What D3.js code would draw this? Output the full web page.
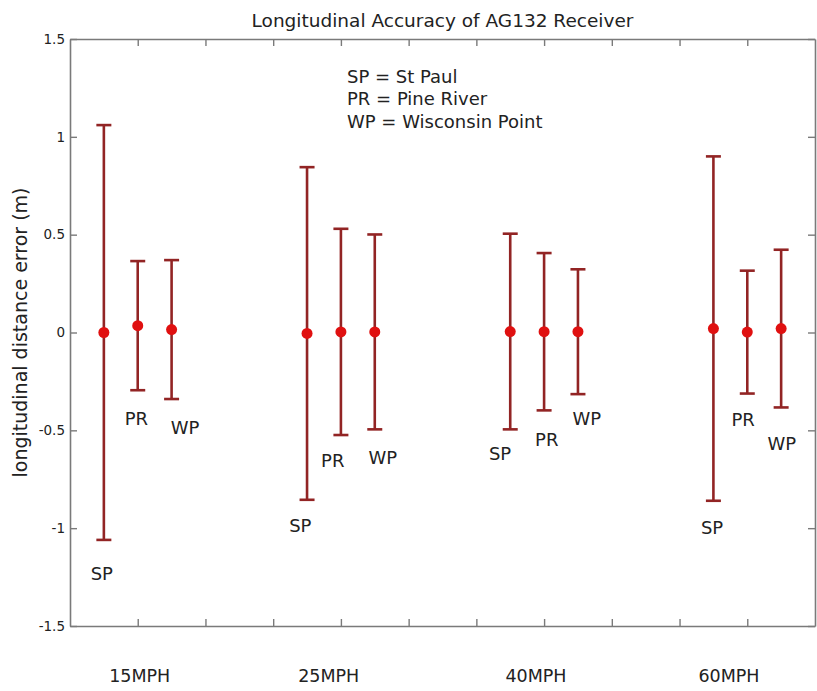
<!DOCTYPE html>
<html>
<head>
<meta charset="utf-8">
<script src="https://cdn.jsdelivr.net/npm/d3@7"></script>
<style>
  html, body { margin: 0; padding: 0; background: #fff; }
  svg { display: block; font-family: "DejaVu Sans", "Liberation Sans", Arial, sans-serif; }
</style>
</head>
<body>
<svg id="chart" width="817" height="691"></svg>
<script>
// Speed groups and their x values on the plot
const speeds = ["15MPH", "25MPH", "40MPH", "60MPH"];
const groupX = [1, 4, 7, 10];
const speedLabelX = [1.03, 3.82, 6.88, 9.73];
const speedLabelY = -1.755;

// Test sites, offset within each speed group
const sites = ["SP", "PR", "WP"];
const siteNames = ["St Paul", "Pine River", "Wisconsin Point"];
const siteOffset = [-0.5, 0, 0.5];

// Mean longitudinal error (m) per site, one value per speed
const meanSP = [0.0, -0.005, 0.005, 0.02];
const meanPR = [0.035, 0.003, 0.004, 0.002];
const meanWP = [0.015, 0.003, 0.004, 0.02];

// Error bar half-widths (m)
const errSP = [1.06, 0.85, 0.50, 0.88];
const errPR = [0.33, 0.527, 0.402, 0.314];
const errWP = [0.355, 0.498, 0.319, 0.403];

// Site label anchors in data units
const labelXSP = [0.47, 3.40, 6.35, 9.48];
const labelYSP = [-1.23, -0.985, -0.62, -0.995];
const labelXPR = [0.98, 3.88, 7.04, 9.94];
const labelYPR = [-0.437, -0.652, -0.545, -0.447];
const labelXWP = [1.70, 4.62, 7.63, 10.51];
const labelYWP = [-0.483, -0.641, -0.437, -0.565];

// Axis ticks
const xTicks = [1, 2, 3, 4, 5, 6, 7, 8, 9, 10];
const yTicks = [-1.5, -1, -0.5, 0, 0.5, 1, 1.5];
const yTickLabels = ["-1.5", "-1", "-0.5", "0", "0.5", "1", "1.5"];

const means = [meanSP, meanPR, meanWP];
const errs = [errSP, errPR, errWP];
const labelXs = [labelXSP, labelXPR, labelXWP];
const labelYs = [labelYSP, labelYPR, labelYWP];

const points = [];
sites.forEach((s, si) => {
  speeds.forEach((sp, gi) => {
    points.push({
      site: s, speed: sp,
      x: groupX[gi] + siteOffset[si],
      mean: means[si][gi],
      err: errs[si][gi],
      lx: labelXs[si][gi],
      ly: labelYs[si][gi]
    });
  });
});

const margin = { left: 70, right: 2, top: 39, bottom: 65 };
const W = 817, H = 691;
const x = d3.scaleLinear().domain([0, 11]).range([margin.left, W - margin.right]);
const y = d3.scaleLinear().domain([-1.5, 1.5]).range([H - margin.bottom, margin.top]);

const svg = d3.select("#chart");
const axisColor = "#7a7a7a";
const textColor = "#222";
const fontFamily = "DejaVu Sans, Liberation Sans, Arial, sans-serif";

// Plot frame with inward ticks on all four sides
const tickLen = 7;
function styleAxis(g) {
  g.select(".domain").attr("stroke", axisColor).attr("stroke-width", 1.6);
  g.selectAll(".tick line").attr("stroke", axisColor).attr("stroke-width", 1.4);
}
svg.append("g")
  .attr("transform", `translate(0,${y(-1.5)})`)
  .call(d3.axisBottom(x).tickValues(xTicks).tickSizeInner(-tickLen).tickSizeOuter(0).tickFormat(""))
  .call(styleAxis);
svg.append("g")
  .attr("transform", `translate(0,${y(1.5)})`)
  .call(d3.axisTop(x).tickValues(xTicks).tickSizeInner(-tickLen).tickSizeOuter(0).tickFormat(""))
  .call(styleAxis);
svg.append("g")
  .attr("transform", `translate(${x(0)},0)`)
  .call(d3.axisLeft(y).tickValues(yTicks).tickSizeInner(-tickLen).tickSizeOuter(0)
    .tickPadding(5).tickFormat((d, i) => yTickLabels[i]))
  .call(styleAxis)
  .call(g => g.selectAll(".tick text").attr("fill", textColor)
    .attr("font-size", 13.5).attr("font-family", fontFamily));
svg.append("g")
  .attr("transform", `translate(${x(11)},0)`)
  .call(d3.axisRight(y).tickValues(yTicks).tickSizeInner(-tickLen).tickSizeOuter(0).tickFormat(""))
  .call(styleAxis);

// Error bars
const barColor = "#922424";
const capHalf = 7.5;
const bars = svg.append("g").attr("class", "errorbars");
bars.selectAll("line.stem").data(points).join("line")
  .attr("class", "stem")
  .attr("x1", d => x(d.x)).attr("x2", d => x(d.x))
  .attr("y1", d => y(d.mean + d.err)).attr("y2", d => y(d.mean - d.err))
  .attr("stroke", barColor).attr("stroke-width", 2.6);
bars.selectAll("line.capTop").data(points).join("line")
  .attr("class", "capTop")
  .attr("x1", d => x(d.x) - capHalf).attr("x2", d => x(d.x) + capHalf)
  .attr("y1", d => y(d.mean + d.err)).attr("y2", d => y(d.mean + d.err))
  .attr("stroke", barColor).attr("stroke-width", 2.6);
bars.selectAll("line.capBot").data(points).join("line")
  .attr("class", "capBot")
  .attr("x1", d => x(d.x) - capHalf).attr("x2", d => x(d.x) + capHalf)
  .attr("y1", d => y(d.mean - d.err)).attr("y2", d => y(d.mean - d.err))
  .attr("stroke", barColor).attr("stroke-width", 2.6);

// Mean markers
svg.append("g").selectAll("circle").data(points).join("circle")
  .attr("cx", d => x(d.x)).attr("cy", d => y(d.mean)).attr("r", 5.5)
  .attr("fill", "#e01010");

// Site labels
svg.append("g").selectAll("text").data(points).join("text")
  .attr("x", d => x(d.lx)).attr("y", d => y(d.ly))
  .attr("text-anchor", "middle").attr("dominant-baseline", "central")
  .attr("font-size", 18).attr("fill", textColor)
  .text(d => d.site);

// Speed group labels
svg.append("g").selectAll("text").data(speeds).join("text")
  .attr("x", (d, i) => x(speedLabelX[i])).attr("y", y(speedLabelY))
  .attr("text-anchor", "middle").attr("dominant-baseline", "central")
  .attr("font-size", 17.5).attr("fill", textColor)
  .text(d => d);

// Legend text
svg.append("g").selectAll("text").data(sites).join("text")
  .attr("x", 347).attr("y", (d, i) => 76 + i * 22.7)
  .attr("dominant-baseline", "central")
  .attr("font-size", 18).attr("fill", textColor)
  .text((d, i) => `${d} = ${siteNames[i]}`);

// Title
svg.append("text")
  .attr("x", (x(0) + x(11)) / 2).attr("y", 20)
  .attr("text-anchor", "middle").attr("dominant-baseline", "central")
  .attr("font-size", 18.5).attr("fill", textColor)
  .text("Longitudinal Accuracy of AG132 Receiver");

// Y axis title
svg.append("text")
  .attr("transform", `translate(20,${y(0)}) rotate(-90)`)
  .attr("text-anchor", "middle").attr("dominant-baseline", "central")
  .attr("font-size", 19).attr("fill", textColor)
  .text("longitudinal distance error (m)");
</script>
</body>
</html>
